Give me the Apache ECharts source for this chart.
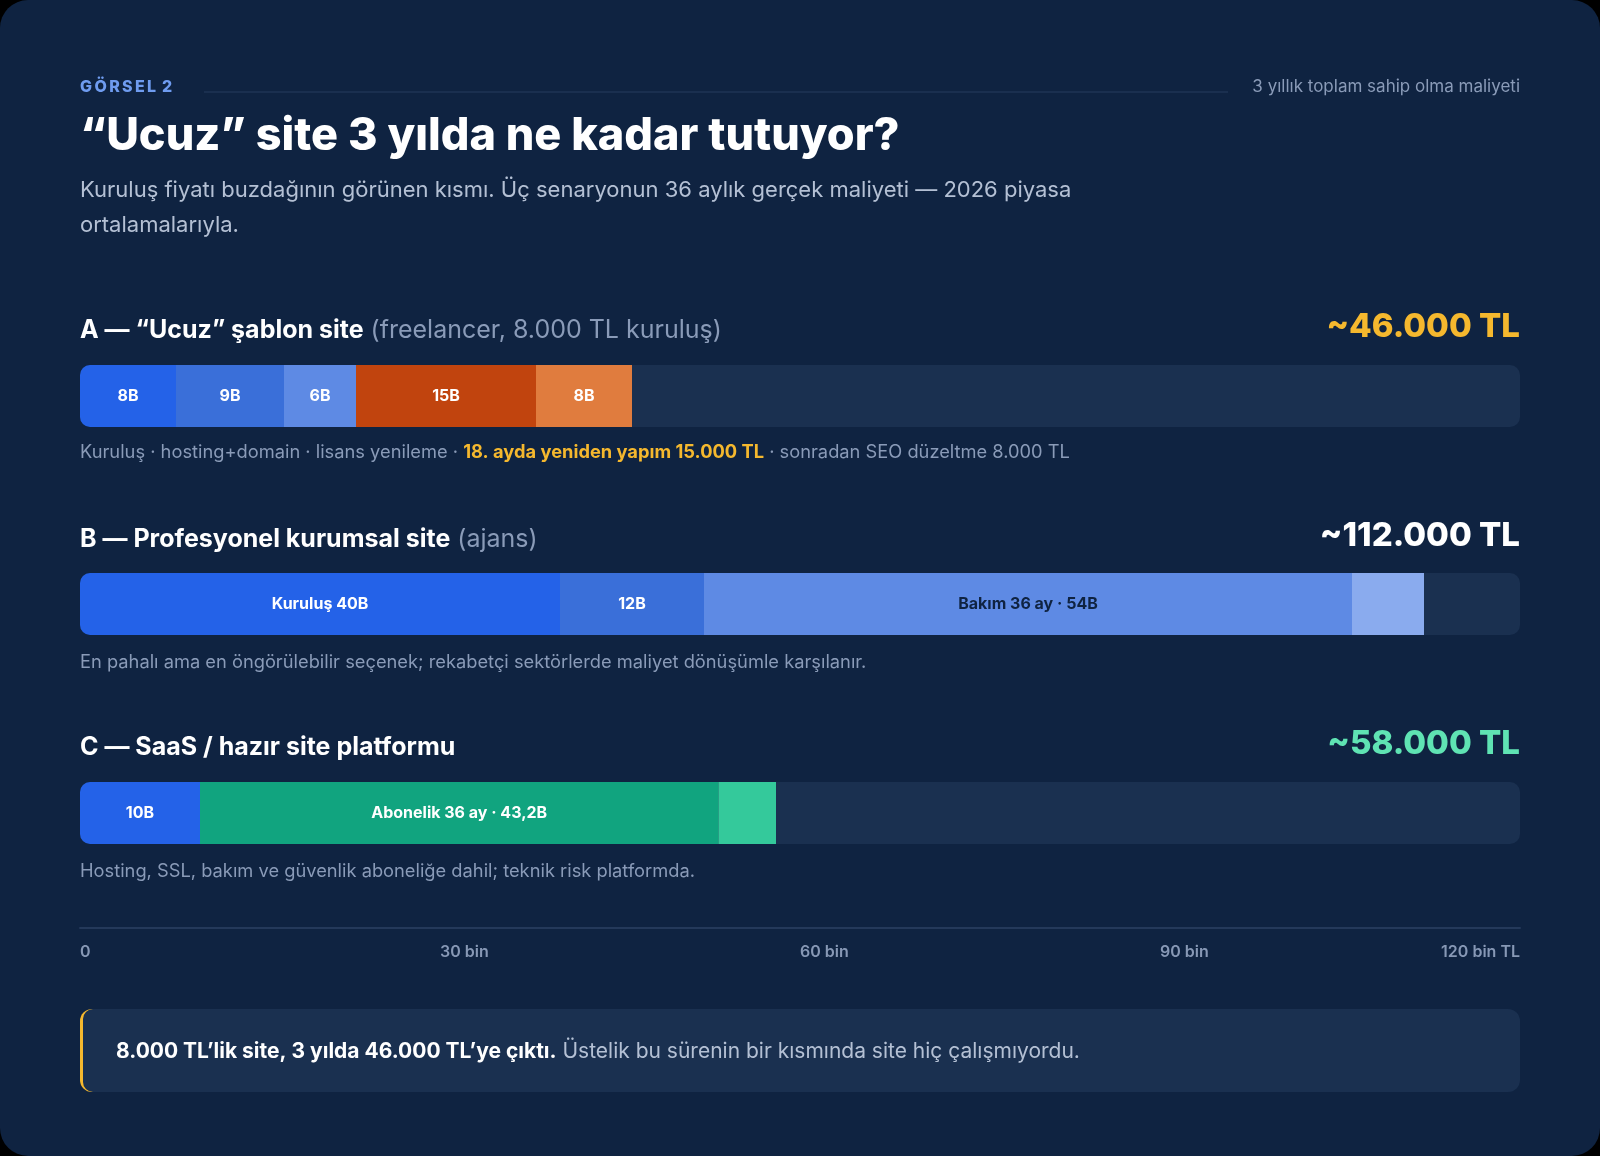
<!DOCTYPE html>
<html lang="tr">
<head>
<meta charset="utf-8">
<title>“Ucuz” site 3 yılda ne kadar tutuyor?</title>
<script src="https://cdn.jsdelivr.net/npm/echarts@6/dist/echarts.min.js"></script>
<style>
  html, body { margin: 0; padding: 0; background: #000; }
  #card { width: 1600px; height: 1156px; border-radius: 28px; overflow: hidden; background: #0f2341; }
</style>
</head>
<body>
<div id="card"></div>
<script>
// maliyet kalemleri (bin TL)
var valuesA = [8, 9, 6, 15, 8];
var labelsA = ['8B', '9B', '6B', '15B', '8B'];
var valuesB = [40, 12, 54, 6];
var labelsB = ['Kuruluş 40B', '12B', 'Bakım 36 ay · 54B', ''];
var valuesC = [10, 43.2, 4.8];
var labelsC = ['10B', 'Abonelik 36 ay · 43,2B', ''];
var axisTicks = ['0', '30 bin', '60 bin', '90 bin', '120 bin TL'];

// renkler
var colorsA = ['#2462e8', '#3a6fd9', '#5e8ae4', '#c1440e', '#e07c3e'];
var colorsB = ['#2462e8', '#3a6fd9', '#5e8ae4', '#8aabee'];
var colorsC = ['#2462e8', '#11a47f', '#34c99b'];
var textB = ['#ffffff', '#ffffff', '#0f2341', '#ffffff'];

var FONT = 'Inter, "Noto Sans", sans-serif';
var TRACK = '#1a3050';

var chart = echarts.init(document.getElementById('card'), null, { renderer: 'canvas' });

var grids = [
    { left: 80, width: 1440, top: 365, height: 62 },
    { left: 80, width: 1440, top: 573, height: 62 },
    { left: 80, width: 1440, top: 782, height: 62 },
    { left: 80, width: 1440, top: 927, height: 1 }
];

var xAxes = [], yAxes = [];
for (var i = 0; i < 4; i++) {
    xAxes.push({
        type: 'value', gridIndex: i, min: 0, max: 120, interval: 30,
        show: i === 3,
        axisLine: { show: true, lineStyle: { color: '#24395a', width: 2 } },
        axisTick: { show: false },
        splitLine: { show: false },
        axisLabel: {
            margin: 16, color: '#8798b5', fontSize: 16, fontWeight: 600, fontFamily: FONT,
            align: 'left', alignMaxLabel: 'right',
            formatter: function (v) { return axisTicks[Math.round(v / 30)]; }
        }
    });
    yAxes.push({ type: 'category', gridIndex: i, data: ['x'], show: false });
}

function stack(idx, values, labels, colors, textColors) {
    return values.map(function (v, k) {
        return {
            type: 'bar', stack: 's' + idx, xAxisIndex: idx, yAxisIndex: idx,
            barWidth: 62, silent: true,
            showBackground: k === 0,
            backgroundStyle: { color: TRACK, borderRadius: 10 },
            itemStyle: { color: colors[k], borderRadius: k === 0 ? [10, 0, 0, 10] : 0 },
            label: {
                show: labels[k] !== '', position: 'inside',
                formatter: labels[k],
                color: textColors ? textColors[k] : '#ffffff',
                fontFamily: FONT, fontSize: 16, fontWeight: 700
            },
            data: [v]
        };
    });
}

var series = [].concat(
    stack(0, valuesA, labelsA, colorsA),
    stack(1, valuesB, labelsB, colorsB, textB),
    stack(2, valuesC, labelsC, colorsC)
);

function txt(x, y, text, style, align) {
    return {
        type: 'text', x: x, y: y, silent: true,
        style: Object.assign({ text: text, fontFamily: FONT, align: align || 'left', verticalAlign: 'middle' }, style)
    };
}

var gray = '#8a9bb8';
var titleRich = {
    b: { fontFamily: FONT, fontSize: 25, fontWeight: 700, fill: '#ffffff' },
    g: { fontFamily: FONT, fontSize: 25, fontWeight: 400, fill: gray }
};

var graphic = [
    txt(80, 87, 'G\u2009Ö\u2009R\u2009S\u2009E\u2009L\u2009 2', { fontSize: 16, fontWeight: 800, fill: '#6f9cf0' }),
    { type: 'line', silent: true, shape: { x1: 204, y1: 92, x2: 1228, y2: 92 }, style: { stroke: '#263c5e', lineWidth: 1 } },
    txt(1520, 87, '3 yıllık toplam sahip olma maliyeti', { fontSize: 17, fill: gray }, 'right'),
    txt(80, 136, '“Ucuz” site 3 yılda ne kadar tutuyor?', { fontSize: 45, fontWeight: 800, fill: '#ffffff' }),
    txt(80, 208, 'Kuruluş fiyatı buzdağının görünen kısmı. Üç senaryonun 36 aylık gerçek maliyeti — 2026 piyasa\nortalamalarıyla.',
        { fontSize: 22, fill: '#b4c0d4', lineHeight: 35 }),

    txt(80, 330, '{b|A — “Ucuz” şablon site}{g| (freelancer, 8.000 TL kuruluş)}', { rich: titleRich }),
    txt(1520, 327, '~46.000 TL', { fontSize: 33, fontWeight: 800, fill: '#f5b82e' }, 'right'),
    txt(80, 453, '{g|Kuruluş · hosting+domain · lisans yenileme · }{y|18. ayda yeniden yapım 15.000 TL}{g| · sonradan SEO düzeltme 8.000 TL}', {
        rich: {
            g: { fontFamily: FONT, fontSize: 18.3, fill: gray },
            y: { fontFamily: FONT, fontSize: 18.3, fontWeight: 700, fill: '#f5b82e' }
        }
    }),

    txt(80, 539, '{b|B — Profesyonel kurumsal site}{g| (ajans)}', { rich: titleRich }),
    txt(1520, 536, '~112.000 TL', { fontSize: 33, fontWeight: 800, fill: '#ffffff' }, 'right'),
    txt(80, 663, 'En pahalı ama en öngörülebilir seçenek; rekabetçi sektörlerde maliyet dönüşümle karşılanır.', { fontSize: 18.3, fill: gray }),

    txt(80, 747, '{b|C — SaaS / hazır site platformu}', { rich: titleRich }),
    txt(1520, 744, '~58.000 TL', { fontSize: 33, fontWeight: 800, fill: '#5fe3b3' }, 'right'),
    txt(80, 872, 'Hosting, SSL, bakım ve güvenlik aboneliğe dahil; teknik risk platformda.', { fontSize: 18.3, fill: gray }),

    { type: 'rect', silent: true, shape: { x: 80, y: 1009, width: 40, height: 83, r: 12 }, style: { fill: '#f5b82e' } },
    { type: 'rect', silent: true, shape: { x: 83, y: 1009, width: 1437, height: 83, r: [10, 12, 12, 10] }, style: { fill: '#1a3050' } },
    txt(116, 1052, '{b|8.000 TL’lik site, 3 yılda 46.000 TL’ye çıktı.}{g| Üstelik bu sürenin bir kısmında site hiç çalışmıyordu.}', {
        rich: {
            b: { fontFamily: FONT, fontSize: 21, fontWeight: 700, fill: '#ffffff' },
            g: { fontFamily: FONT, fontSize: 21, fill: '#b4c0d4' }
        }
    })
];

chart.setOption({
    backgroundColor: 'transparent',
    animation: false,
    grid: grids,
    xAxis: xAxes,
    yAxis: yAxes,
    series: series,
    graphic: graphic
});
</script>
</body>
</html>
